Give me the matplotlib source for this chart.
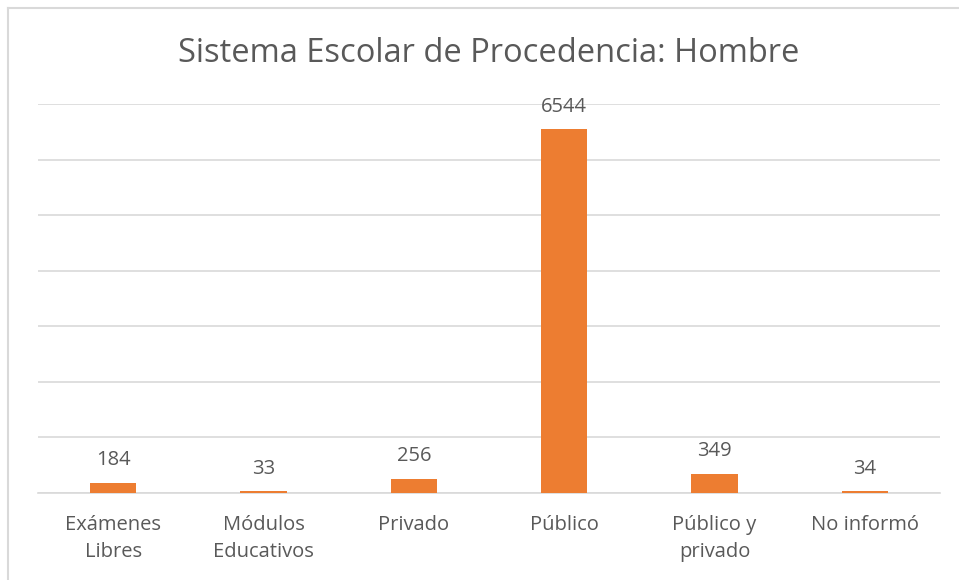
import matplotlib.pyplot as plt
from matplotlib.lines import Line2D

categorias = ['Exámenes\nLibres', 'Módulos\nEducativos', 'Privado', 'Público', 'Público y\nprivado', 'No informó']
valores = [184, 33, 256, 6544, 349, 34]
titulo = 'Sistema Escolar de Procedencia: Hombre'

plt.rcParams['font.family'] = ['Open Sans', 'DejaVu Sans']
gris = '#595959'

fig = plt.figure(figsize=(9.59, 5.8), dpi=100)
ax = fig.add_axes([0.0396, 0.15, 0.9406, 0.6707])

x = range(len(categorias))
barras = ax.bar(x, valores, width=0.31, color='#ED7D31', zorder=3)
for b, v in zip(barras, valores):
    ax.annotate(str(v), (b.get_x() + b.get_width() / 2, v), xytext=(0, 9),
                textcoords='offset points', ha='center', va='bottom',
                fontsize=14.5, color=gris)

ax.set_xlim(-0.5, len(categorias) - 0.5)
ax.set_ylim(0, 7000)
ax.set_yticks(range(0, 7001, 1000))
ax.set_yticklabels([])
ax.yaxis.grid(True, color='#D9D9D9', linewidth=1.2, zorder=0)
ax.tick_params(axis='y', length=0)
ax.tick_params(axis='x', length=0, pad=16, labelsize=14.5, labelcolor=gris)
ax.set_xticks(list(x))
ax.set_xticklabels(categorias, linespacing=1.45)
for s in ['top', 'right', 'left']:
    ax.spines[s].set_visible(False)
ax.spines['bottom'].set_color('#D9D9D9')
ax.spines['bottom'].set_linewidth(1.2)

fig.text(0.51, 0.907, titulo, ha='center', va='center', fontsize=23.5, color=gris)

# marco del gráfico
fig.add_artist(Line2D([8 / 959, 1], [1 - 8 / 580, 1 - 8 / 580], color='#D9D9D9', linewidth=1.5))
fig.add_artist(Line2D([8 / 959, 8 / 959], [0, 1 - 8 / 580], color='#D9D9D9', linewidth=1.5))

fig.savefig('out.png', dpi=100)
